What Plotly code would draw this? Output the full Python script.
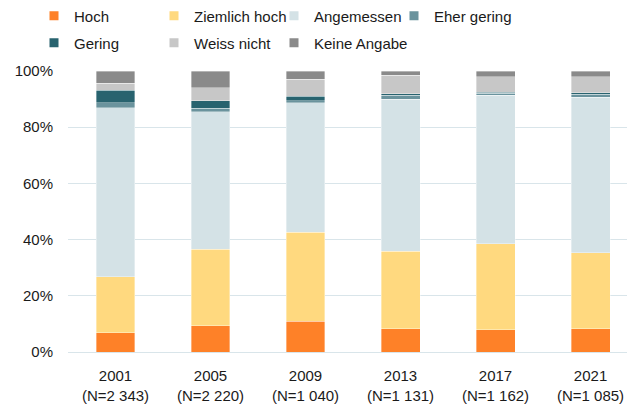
import plotly.graph_objects as go

categories = ["2001<br>(N=2 343)", "2005<br>(N=2 220)", "2009<br>(N=1 040)",
              "2013<br>(N=1 131)", "2017<br>(N=1 162)", "2021<br>(N=1 085)"]

hoch = [6.9, 9.3, 11.0, 8.3, 8.0, 8.2]
ziemlich_hoch = [19.8, 27.2, 31.6, 27.6, 30.6, 27.2]
angemessen = [60.2, 49.0, 46.1, 54.1, 52.7, 55.2]
eher_gering = [1.8, 1.2, 0.7, 1.4, 0.7, 1.1]
gering = [4.5, 2.7, 1.6, 0.5, 0.5, 0.5]
weiss_nicht = [2.4, 4.7, 6.1, 6.6, 5.5, 5.8]
keine_angabe = [4.4, 5.9, 2.9, 1.5, 2.0, 2.0]

series = [
    ("Hoch", hoch, "#FE8128"),
    ("Ziemlich hoch", ziemlich_hoch, "#FFD97F"),
    ("Angemessen", angemessen, "#D4E2E6"),
    ("Eher gering", eher_gering, "#6A939D"),
    ("Gering", gering, "#28636F"),
    ("Weiss nicht", weiss_nicht, "#C7C7C7"),
    ("Keine Angabe", keine_angabe, "#8A8A8A"),
]

# page body has an 8px default margin; figure sized so it ends at the window edge
W, H = 627, 399
ML, MT, MB = 60, 63, 55
plot_w = W - ML
plot_h = H - MT - MB

fig = go.Figure()
for name, vals, color in series:
    fig.add_trace(go.Bar(
        x=categories, y=vals, name=name,
        marker=dict(color=color, line=dict(color="rgba(255,255,255,0.6)", width=0.6)),
        showlegend=False,
    ))

legends = {}
for i, (name, vals, color) in enumerate(series):
    key = "legend" if i == 0 else f"legend{i + 1}"
    col, row = i % 4, i // 4
    lx = 26 + 120 * col          # legend left edge, figure px
    cy = 8 + 27 * row            # row centre, figure px
    legends[key] = dict(
        x=(lx - ML) / plot_w, xanchor="left",
        y=(MT + plot_h - cy) / plot_h, yanchor="middle",
        font=dict(size=15), itemwidth=30, bgcolor="rgba(0,0,0,0)",
    )
    fig.add_trace(go.Scatter(
        x=[None], y=[None], mode="markers", name=name,
        marker=dict(symbol="square", size=9, color=color),
        legend=key,
    ))

fig.update_layout(
    width=W, height=H,
    barmode="stack", bargap=0.59,
    margin=dict(l=ML, r=0, t=MT, b=MB, autoexpand=False),
    paper_bgcolor="white", plot_bgcolor="white",
    font=dict(family="Liberation Sans, Arial, sans-serif", size=15, color="#1a1a1a"),
    xaxis=dict(range=[-0.5, 5.468], showgrid=False, showline=False, ticks="",
               tickfont=dict(size=15), fixedrange=True, automargin=False,
               ticklabelstandoff=13),
    yaxis=dict(range=[0, 100], tickvals=[0, 20, 40, 60, 80, 100],
               ticktext=["0%", "20%", "40%", "60%", "80%", "100%"],
               showgrid=True, gridcolor="#D9E5EA", gridwidth=1,
               zeroline=True, zerolinecolor="#D9E5EA", zerolinewidth=1,
               ticks="", ticklabelstandoff=14, tickfont=dict(size=15),
               automargin=False),
    **legends,
)

fig.write_html("out.html")
